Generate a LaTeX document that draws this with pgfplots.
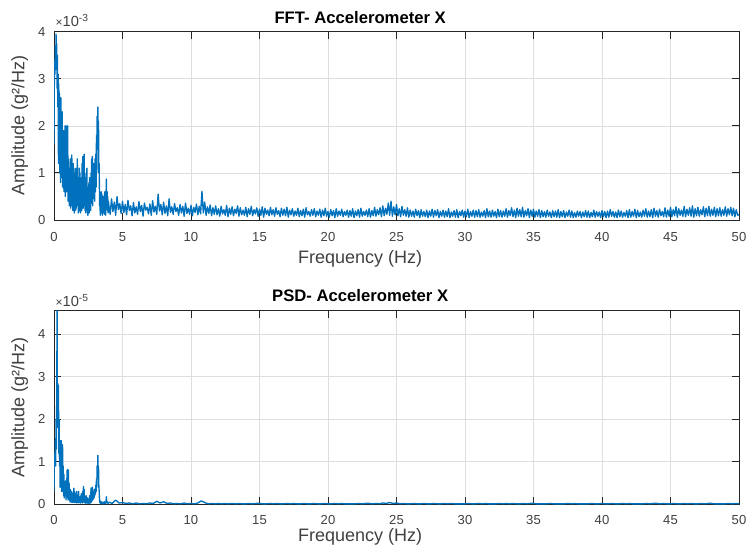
\documentclass[border=0pt]{standalone}
\usepackage{fontspec}
\setmainfont{Liberation Sans}
\usepackage{pgfplots}
\pgfplotsset{compat=1.18}
\definecolor{mblue}{HTML}{0072BD}
\definecolor{axgray}{HTML}{262626}
\definecolor{txtgray}{HTML}{404040}
\definecolor{gridgray}{HTML}{DEDEDE}
\pgfplotsset{
  mstyle/.style={
    scale only axis, width=513.75pt, xmin=0, xmax=50,
    xtick={0,5,...,50}, ytick={0,1,2,3,4},
    axis line style={axgray, line width=0.7pt},
    tick style={axgray, line width=0.7pt},
    major tick length=5.5pt,
    tick align=inside,
    grid=major,
    major grid style={gridgray, line width=0.5pt},
    ticklabel style={font=\fontsize{9.8}{11}\selectfont, text=txtgray},
    /pgf/number format/assume math mode=true,
    label style={font=\fontsize{13.5}{15}\selectfont, text=txtgray},
    title style={font=\fontsize{12.5}{14}\selectfont\bfseries, text=black, at={(0.447,1)}, anchor=base},
    ylabel style={at={(axis description cs:-0.05,0.5)}, anchor=center},
    y tick label style={xshift=-3pt},
    xlabel={Frequency (Hz)},
    ylabel={Amplitude (g²/Hz)},
  },
  dataline/.style={mblue, line width=1.0pt, line join=round},
}
\begin{document}
\begin{tikzpicture}
\useasboundingbox (-40.5pt,-36.5pt) rectangle (521.25pt,378.2pt);
% ---------------- FFT ----------------
\begin{axis}[mstyle, name=fft, at={(0pt,213.2pt)}, anchor=south west,
  height=141.2pt, ymin=0, ymax=4,
  title={FFT- Accelerometer X}, title style={yshift=0pt},
  xlabel style={at={(axis description cs:0.447,0)}, anchor=base, yshift=-32.5pt},
  x tick label style={yshift=-6pt}]
\addplot[dataline] table[header=false, row sep=\\, x expr=\coordindex*0.025, y index=0] {
1.6\\ 2.9\\ 3.4\\ 3.1\\
3.7\\ 3.2\\ 3.95\\ 3.6\\
3.75\\ 2.8\\ 3.5\\ 2.4\\
3.1\\ 1.2\\ 2.9\\ 1.6\\
2.7\\ 1.0\\ 2.3\\ 0.8\\
2.6\\ 1.3\\ 2.1\\ 0.9\\
2.3\\ 0.7\\ 1.8\\ 1.1\\
1.9\\ 0.6\\ 1.6\\ 0.9\\
2.0\\ 0.5\\ 1.4\\ 0.8\\
2.0\\ 0.6\\ 1.7\\ 0.7\\
2.0\\ 0.4\\ 1.3\\ 0.6\\
1.1\\ 0.3\\ 1.0\\ 0.5\\
1.3\\ 0.25\\ 1.1\\ 0.4\\
1.38\\ 0.3\\ 0.9\\ 0.2\\
1.2\\ 0.35\\ 1.1\\ 0.15\\
0.9\\ 0.3\\ 1.0\\ 0.2\\
1.1\\ 0.25\\ 0.8\\ 0.4\\
1.3\\ 0.3\\ 0.9\\ 0.15\\
0.8\\ 0.35\\ 1.1\\ 0.2\\
1.0\\ 0.15\\ 0.7\\ 0.3\\
0.9\\ 0.2\\ 1.2\\ 0.3\\
1.35\\ 0.25\\ 0.9\\ 0.4\\
1.4\\ 0.3\\ 1.0\\ 0.2\\
0.8\\ 0.15\\ 0.9\\ 0.3\\
1.1\\ 0.2\\ 0.6\\ 0.1\\
0.7\\ 0.25\\ 0.8\\ 0.15\\
0.9\\ 0.3\\ 0.5\\ 0.2\\
1.0\\ 0.35\\ 1.3\\ 0.4\\
1.35\\ 0.3\\ 0.9\\ 0.45\\
1.2\\ 0.5\\ 0.8\\ 0.4\\
1.3\\ 0.6\\ 1.4\\ 0.7\\
1.8\\ 1.0\\ 2.2\\ 1.5\\
2.4\\ 1.6\\ 2.1\\ 1.0\\
1.2\\ 0.3\\ 0.6\\ 0.1\\
0.5\\ 0.15\\ 0.6\\ 0.2\\
0.55\\ 0.1\\ 0.4\\ 0.2\\
0.5\\ 0.15\\ 0.45\\ 0.12\\
0.6\\ 0.2\\ 0.5\\ 0.1\\
0.55\\ 0.87\\ 0.3\\ 0.6\\
0.2\\ 0.5\\ 0.15\\ 0.4\\
0.32\\
};
\addplot[dataline] table[header=false, row sep=\\, x expr=4+\coordindex*0.1, y index=0] {
0.32\\ 0.12\\ 0.45\\ 0.18\\ 0.38\\ 0.10\\ 0.50\\ 0.22\\ 0.35\\ 0.14\\
0.40\\ 0.16\\ 0.33\\ 0.11\\ 0.42\\ 0.20\\ 0.30\\ 0.09\\ 0.37\\ 0.15\\
0.28\\ 0.12\\ 0.39\\ 0.18\\ 0.31\\ 0.08\\ 0.36\\ 0.21\\ 0.27\\ 0.13\\
0.34\\ 0.10\\ 0.41\\ 0.17\\ 0.29\\ 0.12\\ 0.55\\ 0.19\\ 0.33\\ 0.11\\
0.38\\ 0.14\\ 0.30\\ 0.09\\ 0.45\\ 0.16\\ 0.28\\ 0.12\\ 0.35\\ 0.18\\
0.26\\ 0.10\\ 0.33\\ 0.15\\ 0.29\\ 0.08\\ 0.36\\ 0.14\\ 0.25\\ 0.12\\
0.31\\ 0.09\\ 0.27\\ 0.16\\ 0.34\\ 0.11\\ 0.29\\ 0.13\\ 0.61\\ 0.15\\
0.38\\ 0.10\\ 0.28\\ 0.14\\ 0.32\\ 0.09\\ 0.26\\ 0.12\\ 0.30\\ 0.11\\
0.24\\ 0.08\\ 0.29\\ 0.13\\ 0.22\\ 0.10\\ 0.31\\ 0.07\\ 0.25\\ 0.12\\
0.28\\ 0.09\\ 0.23\\ 0.14\\ 0.30\\ 0.08\\ 0.26\\ 0.11\\ 0.21\\ 0.10\\
0.27\\ 0.07\\ 0.24\\ 0.12\\ 0.29\\ 0.09\\ 0.22\\ 0.13\\ 0.26\\ 0.08\\
0.23\\ 0.10\\ 0.28\\ 0.06\\ 0.25\\ 0.12\\ 0.21\\ 0.09\\ 0.27\\ 0.11\\
0.22\\ 0.08\\ 0.26\\ 0.12\\ 0.20\\ 0.07\\ 0.25\\ 0.10\\ 0.23\\ 0.09\\
0.27\\ 0.06\\ 0.21\\ 0.11\\ 0.24\\ 0.08\\ 0.19\\ 0.10\\ 0.25\\ 0.07\\
0.20\\ 0.09\\ 0.23\\ 0.06\\ 0.26\\ 0.11\\ 0.18\\ 0.08\\ 0.22\\ 0.10\\
0.24\\ 0.07\\ 0.19\\ 0.10\\ 0.23\\ 0.06\\ 0.21\\ 0.09\\ 0.25\\ 0.08\\
0.18\\ 0.06\\ 0.22\\ 0.09\\ 0.20\\ 0.05\\ 0.24\\ 0.08\\ 0.19\\ 0.10\\
0.23\\ 0.07\\ 0.18\\ 0.10\\ 0.21\\ 0.06\\ 0.20\\ 0.08\\ 0.24\\ 0.05\\
0.19\\ 0.09\\ 0.22\\ 0.06\\ 0.25\\ 0.08\\ 0.18\\ 0.10\\ 0.21\\ 0.07\\
0.24\\ 0.06\\ 0.20\\ 0.09\\ 0.27\\ 0.08\\ 0.22\\ 0.11\\ 0.26\\ 0.07\\
0.30\\ 0.09\\ 0.25\\ 0.12\\ 0.36\\ 0.10\\ 0.40\\ 0.08\\ 0.28\\ 0.11\\
0.33\\ 0.09\\ 0.24\\ 0.07\\ 0.29\\ 0.10\\ 0.22\\ 0.08\\ 0.26\\ 0.06\\
0.21\\ 0.08\\ 0.19\\ 0.06\\ 0.23\\ 0.09\\ 0.20\\ 0.05\\ 0.22\\ 0.08\\
0.18\\ 0.07\\ 0.21\\ 0.05\\ 0.19\\ 0.08\\ 0.23\\ 0.06\\ 0.20\\ 0.09\\
0.22\\ 0.05\\ 0.18\\ 0.08\\ 0.21\\ 0.06\\ 0.19\\ 0.07\\ 0.24\\ 0.05\\
0.17\\ 0.08\\ 0.20\\ 0.06\\ 0.22\\ 0.05\\ 0.18\\ 0.09\\ 0.21\\ 0.06\\
0.19\\ 0.07\\ 0.23\\ 0.05\\ 0.18\\ 0.08\\ 0.21\\ 0.06\\ 0.20\\ 0.07\\
0.22\\ 0.06\\ 0.17\\ 0.08\\ 0.20\\ 0.05\\ 0.24\\ 0.07\\ 0.19\\ 0.06\\
0.21\\ 0.08\\ 0.18\\ 0.05\\ 0.23\\ 0.07\\ 0.20\\ 0.06\\ 0.19\\ 0.08\\
0.24\\ 0.06\\ 0.20\\ 0.09\\ 0.26\\ 0.07\\ 0.21\\ 0.05\\ 0.25\\ 0.08\\
0.22\\ 0.07\\ 0.27\\ 0.06\\ 0.20\\ 0.09\\ 0.24\\ 0.05\\ 0.21\\ 0.08\\
0.23\\ 0.06\\ 0.19\\ 0.08\\ 0.22\\ 0.05\\ 0.20\\ 0.07\\ 0.18\\ 0.06\\
0.21\\ 0.08\\ 0.17\\ 0.05\\ 0.20\\ 0.07\\ 0.19\\ 0.06\\ 0.22\\ 0.05\\
0.18\\ 0.07\\ 0.20\\ 0.05\\ 0.17\\ 0.08\\ 0.21\\ 0.06\\ 0.19\\ 0.05\\
0.16\\ 0.06\\ 0.19\\ 0.08\\ 0.18\\ 0.05\\ 0.17\\ 0.07\\ 0.20\\ 0.06\\
0.19\\ 0.05\\ 0.16\\ 0.07\\ 0.21\\ 0.06\\ 0.18\\ 0.08\\ 0.17\\ 0.05\\
0.20\\ 0.07\\ 0.18\\ 0.05\\ 0.19\\ 0.06\\ 0.22\\ 0.08\\ 0.18\\ 0.06\\
0.17\\ 0.05\\ 0.21\\ 0.07\\ 0.19\\ 0.06\\ 0.16\\ 0.08\\ 0.20\\ 0.05\\
0.22\\ 0.06\\ 0.18\\ 0.08\\ 0.23\\ 0.05\\ 0.20\\ 0.07\\ 0.17\\ 0.06\\
0.21\\ 0.08\\ 0.24\\ 0.06\\ 0.19\\ 0.07\\ 0.22\\ 0.05\\ 0.25\\ 0.08\\
0.20\\ 0.06\\ 0.23\\ 0.09\\ 0.18\\ 0.07\\ 0.26\\ 0.06\\ 0.21\\ 0.08\\
0.27\\ 0.07\\ 0.22\\ 0.09\\ 0.28\\ 0.06\\ 0.24\\ 0.10\\ 0.21\\ 0.08\\
0.29\\ 0.07\\ 0.23\\ 0.10\\ 0.26\\ 0.08\\ 0.30\\ 0.06\\ 0.24\\ 0.09\\
0.27\\ 0.08\\ 0.22\\ 0.11\\ 0.28\\ 0.07\\ 0.25\\ 0.09\\ 0.29\\ 0.08\\
0.23\\ 0.10\\ 0.27\\ 0.07\\ 0.24\\ 0.09\\ 0.26\\ 0.08\\ 0.22\\ 0.10\\
0.28\\ 0.08\\ 0.24\\ 0.11\\ 0.27\\ 0.09\\ 0.25\\ 0.07\\ 0.22\\ 0.10\\
0.12\\
};
\end{axis}
\node[anchor=base west, font=\fontsize{11}{12}\selectfont, text=txtgray, inner sep=0pt]
  at ([xshift=1pt,yshift=3.8pt]fft.north west) {{\fontsize{9}{10}\selectfont×}10\textsuperscript{-3}};
% ---------------- PSD ----------------
\begin{axis}[mstyle, name=psd, at={(0pt,0pt)}, anchor=south west,
  height=145.2pt, ymin=0, ymax=4.55,
  title={PSD- Accelerometer X}, title style={yshift=0.5pt},
  xlabel style={at={(axis description cs:0.447,0)}, anchor=base, yshift=-28pt},
  x tick label style={yshift=-5pt}]
\addplot[dataline] table[header=false, row sep=\\, x expr=\coordindex*0.025, y index=0] {
0.3\\ 0.9\\ 1.2\\ 1.0\\
1.5\\ 0.9\\ 2.0\\ 1.3\\
2.6\\ 4.55\\ 2.2\\ 2.84\\
1.8\\ 2.8\\ 1.2\\ 2.0\\
0.9\\ 1.5\\ 0.4\\ 1.4\\
0.6\\ 1.5\\ 0.3\\ 1.2\\
0.5\\ 1.4\\ 0.3\\ 0.9\\
0.2\\ 0.7\\ 0.15\\ 0.5\\
0.3\\ 0.2\\ 0.55\\ 0.1\\
0.4\\ 0.15\\ 0.8\\ 0.2\\
0.82\\ 0.1\\ 0.8\\ 0.15\\
0.5\\ 0.1\\ 0.3\\ 0.05\\
0.35\\ 0.08\\ 0.2\\ 0.05\\
0.3\\ 0.05\\ 0.25\\ 0.04\\
0.2\\ 0.06\\ 0.38\\ 0.05\\
0.3\\ 0.04\\ 0.2\\ 0.06\\
0.25\\ 0.03\\ 0.3\\ 0.05\\
0.15\\ 0.04\\ 0.22\\ 0.03\\
0.3\\ 0.05\\ 0.18\\ 0.04\\
0.12\\ 0.03\\ 0.2\\ 0.05\\
0.25\\ 0.04\\ 0.15\\ 0.03\\
0.3\\ 0.05\\ 0.42\\ 0.06\\
0.35\\ 0.04\\ 0.2\\ 0.03\\
0.15\\ 0.02\\ 0.2\\ 0.04\\
0.1\\ 0.03\\ 0.15\\ 0.02\\
0.12\\ 0.03\\ 0.08\\ 0.02\\
0.2\\ 0.04\\ 0.1\\ 0.03\\
0.38\\ 0.05\\ 0.3\\ 0.08\\
0.4\\ 0.1\\ 0.25\\ 0.12\\
0.3\\ 0.15\\ 0.35\\ 0.2\\
0.3\\ 0.25\\ 0.45\\ 0.3\\
0.6\\ 0.4\\ 0.9\\ 0.6\\
1.15\\ 0.7\\ 0.9\\ 0.4\\
0.3\\ 0.05\\ 0.1\\ 0.02\\
0.05\\ 0.01\\ 0.06\\ 0.02\\
0.04\\ 0.01\\ 0.05\\ 0.02\\
0.05\\ 0.01\\ 0.04\\ 0.02\\
0.06\\ 0.01\\ 0.05\\ 0.02\\
0.08\\ 0.18\\ 0.04\\ 0.06\\
0.03\\ 0.05\\ 0.02\\ 0.04\\
0.05\\
};
\addplot[dataline] table[header=false, row sep=\\, x expr=4+\coordindex*0.25, y index=0] {
0.05\\ 0.02\\ 0.10\\ 0.03\\
0.04\\ 0.02\\ 0.03\\ 0.01\\
0.03\\ 0.01\\ 0.02\\ 0.01\\
0.03\\ 0.02\\ 0.07\\ 0.03\\
0.06\\ 0.02\\ 0.03\\ 0.01\\
0.02\\ 0.01\\ 0.03\\ 0.01\\
0.02\\ 0.01\\ 0.03\\ 0.08\\
0.04\\ 0.01\\ 0.02\\ 0.01\\
0.02\\ 0.01\\ 0.02\\ 0.01\\
0.02\\ 0.01\\ 0.02\\ 0.01\\
0.01\\ 0.02\\ 0.01\\ 0.02\\
0.02\\ 0.01\\ 0.01\\ 0.02\\
0.01\\ 0.02\\ 0.01\\ 0.01\\
0.02\\ 0.01\\ 0.02\\ 0.01\\
0.01\\ 0.02\\ 0.01\\ 0.01\\
0.02\\ 0.01\\ 0.01\\ 0.02\\
0.01\\ 0.01\\ 0.02\\ 0.01\\
0.02\\ 0.01\\ 0.01\\ 0.01\\
0.01\\ 0.02\\ 0.01\\ 0.02\\
0.02\\ 0.01\\ 0.02\\ 0.01\\
0.03\\ 0.02\\ 0.04\\ 0.02\\
0.03\\ 0.01\\ 0.02\\ 0.01\\
0.01\\ 0.02\\ 0.01\\ 0.01\\
0.02\\ 0.01\\ 0.01\\ 0.02\\
0.01\\ 0.01\\ 0.02\\ 0.01\\
0.02\\ 0.01\\ 0.01\\ 0.01\\
0.01\\ 0.02\\ 0.01\\ 0.01\\
0.02\\ 0.01\\ 0.02\\ 0.01\\
0.01\\ 0.01\\ 0.02\\ 0.01\\
0.02\\ 0.01\\ 0.02\\ 0.01\\
0.01\\ 0.02\\ 0.01\\ 0.02\\
0.02\\ 0.01\\ 0.01\\ 0.01\\
0.01\\ 0.02\\ 0.01\\ 0.01\\
0.01\\ 0.01\\ 0.02\\ 0.01\\
0.02\\ 0.01\\ 0.01\\ 0.01\\
0.01\\ 0.02\\ 0.01\\ 0.01\\
0.02\\ 0.01\\ 0.01\\ 0.02\\
0.01\\ 0.01\\ 0.02\\ 0.01\\
0.02\\ 0.01\\ 0.01\\ 0.01\\
0.01\\ 0.02\\ 0.01\\ 0.02\\
0.02\\ 0.01\\ 0.02\\ 0.01\\
0.01\\ 0.02\\ 0.01\\ 0.01\\
0.02\\ 0.01\\ 0.02\\ 0.01\\
0.01\\ 0.02\\ 0.01\\ 0.02\\
0.02\\ 0.01\\ 0.01\\ 0.01\\
0.01\\ 0.02\\ 0.01\\ 0.02\\
0.01\\
};
\end{axis}
\node[anchor=base west, font=\fontsize{11}{12}\selectfont, text=txtgray, inner sep=0pt]
  at ([xshift=1pt,yshift=3pt]psd.north west) {{\fontsize{9}{10}\selectfont×}10\textsuperscript{-5}};
\end{tikzpicture}
\end{document}
